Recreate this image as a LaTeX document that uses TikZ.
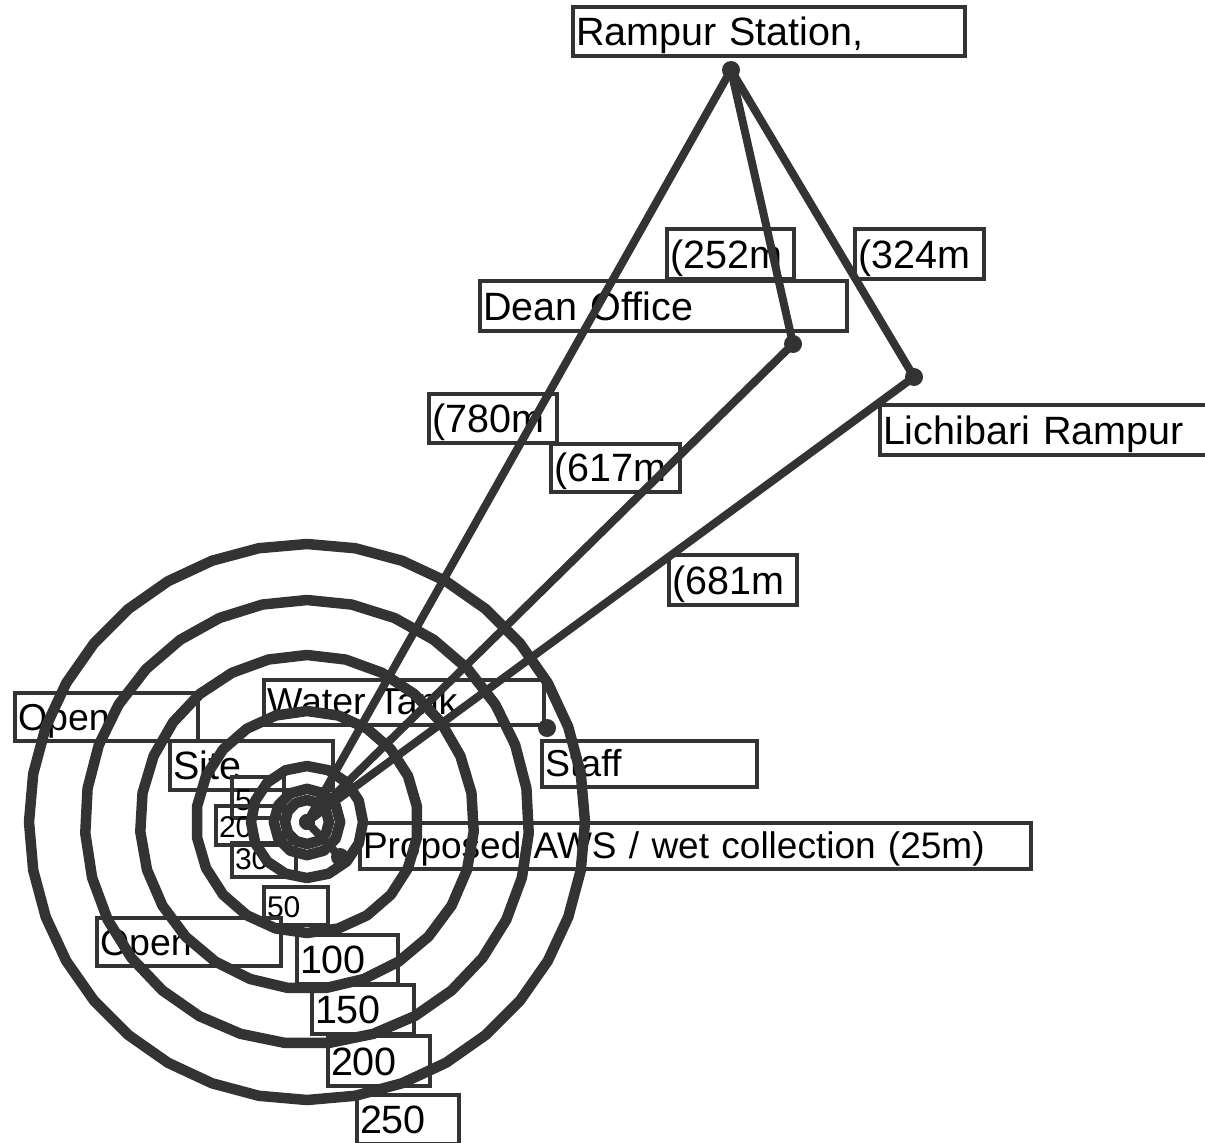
\documentclass[tikz,border=0pt]{standalone}
\usepackage{fontspec}
\setmainfont{Liberation Sans}
\definecolor{ink}{HTML}{333333}
\tikzset{
  lab/.style 2 args={draw=ink,line width=4pt,anchor=north west,inner xsep=0pt,inner ysep=0pt,
    xshift=-2pt,yshift=2pt,
    text width=#1pt,text height=#2pt-11pt,text depth=11pt,text=black,
    font=\fontsize{39.5}{40}\selectfont,execute at begin node={\hspace*{3pt}}},
  mid/.style={font=\fontsize{37.5}{38}\selectfont},
  long/.style={font=\fontsize{37}{38}\selectfont},
  small/.style={font=\fontsize{30}{31}\selectfont,text depth=8pt},
  ring/.style={draw=ink,line width=10.5pt,line join=round},
  link/.style={draw=ink,line width=8pt,line cap=round},
  dot/.style={circle,fill=ink,inner sep=0pt,minimum size=18pt}
}
\begin{document}
\begin{tikzpicture}[x=1pt,y=-1pt]
\useasboundingbox (0,0) rectangle (1205,1143);
% labels
\node[lab={392}{49}] (rampur) at (573,7) {Rampur Station,};
\node[lab={127}{50}] (d252) at (667,229) {(252m};
\node[lab={129}{50}] (d324) at (855,229) {(324m};
\node[lab={367}{50}] (dean) at (480,281) {Dean Office};
\node[lab={128}{49}] (d780) at (429,394) {(780m};
\node[lab={129}{48}] (d617) at (551,444) {(617m};
\node[lab={128}{50}] (d681) at (669,555) {(681m};
\node[lab={340}{50}] (lichi) at (880,405) {Lichibari Rampur};
\node[lab={183}{48},mid] (open1) at (15,693) {Open};
\node[lab={280}{45},mid] (tank) at (264,680) {Water Tank};
\node[lab={163}{49}] (site) at (170,741) {Site};
\node[lab={215}{46},mid] (staff) at (542,741) {Staff};
\node[lab={52}{44},small] (r5) at (232,777) {5};
\node[lab={68}{42},small] (r20) at (216,806) {20};
\node[lab={64}{37},small] (r30) at (232,843) {30};
\node[lab={64}{41},small] (r50) at (264,887) {50};
\node[lab={671}{46},long] (aws) at (360,823) {Proposed AWS / wet collection (25m)};
\node[lab={184}{48},mid] (open2) at (97,918) {Open};
\node[lab={101}{49}] (r100) at (297,935) {100};
\node[lab={102}{49}] (r150) at (312,985) {150};
\node[lab={102}{50}] (r200) at (328,1036) {200};
\node[lab={102}{49}] (r250) at (357,1095) {250};
% rings
\coordinate (c) at (307,822);
\foreach \r/\n in {278/37,222/32,167/28,111/23,56/17,33.2/13,22/13,3/9}{
  \draw[ring] plot[samples=\n,domain=-90:270] ({307+\r*cos(\x)},{822+\r*sin(\x)}) -- cycle;
}
% points
\node[dot] (prampur) at (731,70) {};
\node[dot] (pdean) at (793,344) {};
\node[dot] (plichi) at (914,377) {};
\node[dot] (pstaff) at (547,728) {};
\node[dot] (paws) at (340,857) {};
% connectors
\draw[link] (c) -- (prampur.center);
\draw[link] (prampur.center) -- (pdean.center);
\draw[link] (prampur.center) -- (plichi.center);
\draw[link] (c) -- (pdean.center);
\draw[link] (c) -- (plichi.center);
\draw[link] (c) -- (paws.center);
\end{tikzpicture}
\end{document}
